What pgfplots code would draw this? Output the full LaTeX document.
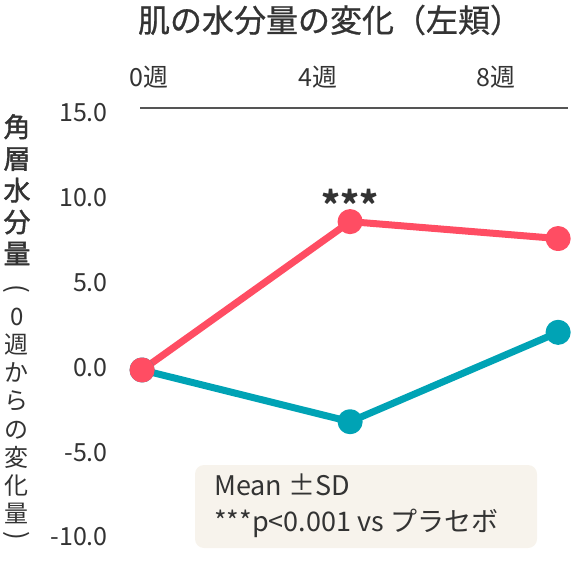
\documentclass[border=0pt]{standalone}
\usepackage{fontspec}
\setmainfont{Noto Sans CJK JP}
\newfontfamily\jpmed[FakeBold=1.5]{Noto Sans CJK JP}
\newfontfamily\jptitle[FakeBold=0.8]{Noto Sans CJK JP}
\usepackage{pgfplots}
\pgfplotsset{compat=1.18}
\definecolor{redc}{HTML}{FF4D63}
\definecolor{tealc}{HTML}{00A3B5}
\definecolor{txt}{HTML}{333333}
\definecolor{beige}{HTML}{F7F3EC}
\definecolor{axisgray}{HTML}{555555}
\begin{document}
\begin{tikzpicture}
\useasboundingbox (0pt,0pt) rectangle (572pt,560pt);
\fill[beige, rounded corners=9pt] (195pt,12pt) rectangle (537pt,95pt);
\node[anchor=base west, inner sep=0, text=txt, font=\fontsize{27}{30}\selectfont] at (214pt,65pt) {Mean ±SD};
\node[anchor=base west, inner sep=0, text=txt, font=\fontsize{27}{30}\selectfont] at (214pt,28.3pt) {***p<0.001 vs プラセボ};
\node[text=txt, inner sep=0, font=\fontsize{32}{36}\selectfont\jptitle] at (330pt,540pt) {肌の水分量の変化（左頬）};
\node[anchor=north, inner sep=0, align=center, text=txt, font=\fontsize{27}{31.7}\selectfont\jpmed] at (17pt,446pt) {角\\層\\水\\分\\量};
\node[rotate=-90, inner sep=0, text=txt, font=\fontsize{26}{28}\selectfont] at (17pt,271pt) {(};
\node[anchor=north, inner sep=0, align=center, text=txt, font=\fontsize{24}{28.1}\selectfont] at (17pt,252pt) {0\\週\\か\\ら\\の\\変\\化\\量};
\node[rotate=-90, inner sep=0, text=txt, font=\fontsize{26}{28}\selectfont] at (17pt,24pt) {)};
\begin{axis}[
  at={(140pt,23pt)}, anchor=south west,
  scale only axis, width=428pt, height=429pt,
  xmin=-0.04, xmax=8.19, ymin=-10, ymax=15.3,
  clip=false,
  axis x line*=top, axis y line*=left,
  x axis line style={-, draw=axisgray, line width=1.5pt},
  y axis line style={draw=none},
  major tick length=0pt,
  tick style={draw=none},
  xtick={0.135,3.38,6.81},
  xticklabels={0週,4週,8週},
  ytick={-10,-5,0,5,10,15},
  /pgf/number format/assume math mode=true,
  /pgf/number format/fixed,
  /pgf/number format/fixed zerofill,
  /pgf/number format/precision=1,
  yticklabel style={anchor=east, inner sep=0pt, xshift=-32pt, text=txt, font=\fontsize{25}{28}\selectfont},
  xticklabel style={anchor=south, inner sep=0pt, yshift=19pt, text=txt, font=\fontsize{25}{28}\selectfont},
]
\addplot[tealc, line width=7pt, line join=round, mark=*, mark size=9pt, mark options={draw=none, fill=tealc}] coordinates {(0,-0.15) (4,-3.2) (8,2.07)};
\addplot[redc, line width=7pt, line join=round, mark=*, mark size=9pt, mark options={draw=none, fill=redc}] coordinates {(0,-0.15) (4,8.6) (8,7.6)};
\node[anchor=base, inner sep=0, text=txt, font=\bfseries\fontsize{36}{36}\selectfont] at (axis cs:4,8.8) {***};
\end{axis}
\end{tikzpicture}
\end{document}
